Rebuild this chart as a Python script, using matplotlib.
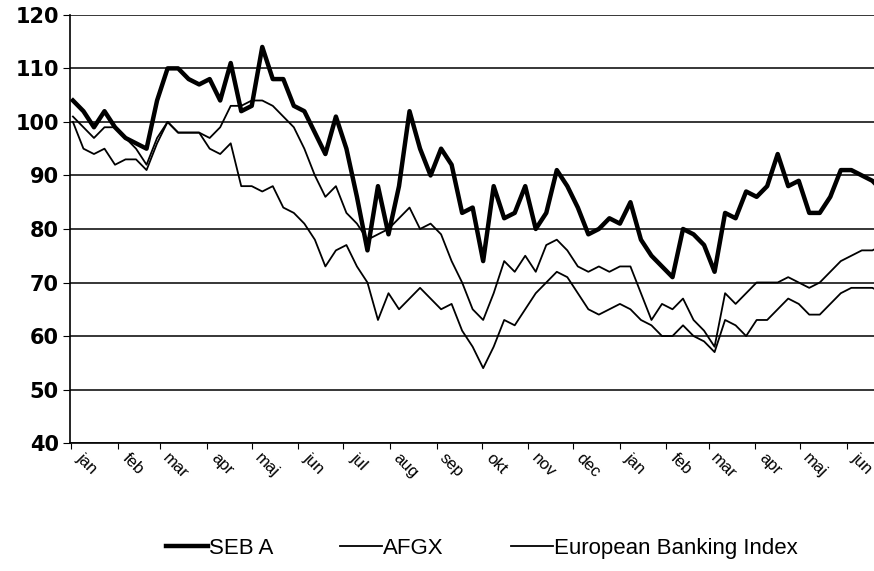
import matplotlib
matplotlib.use("Agg")
import matplotlib.pyplot as plt
import matplotlib.dates as mdates
import numpy as np
import pandas as pd

# weekly closing values, indexed to 100 at the start
start_date = "2001-01-02"
month_labels = ["jan", "feb", "mar", "apr", "maj", "jun", "jul", "aug", "sep",
                "okt", "nov", "dec", "jan", "feb", "mar", "apr", "maj", "jun"]

seb_a = [104, 102, 99, 102, 99, 97, 96, 95, 104, 110, 110, 108, 107, 108, 104,
         111, 102, 103, 114, 108, 108, 103, 102, 98, 94, 101, 95, 86, 76, 88,
         79, 88, 102, 95, 90, 95, 92, 83, 84, 74, 88, 82, 83, 88, 80, 83, 91,
         88, 84, 79, 80, 82, 81, 85, 78, 75, 73, 71, 80, 79, 77, 72, 83, 82,
         87, 86, 88, 94, 88, 89, 83, 83, 86, 91, 91, 90, 89, 87]

afgx = [100, 95, 94, 95, 92, 93, 93, 91, 96, 100, 98, 98, 98, 95, 94, 96, 88,
        88, 87, 88, 84, 83, 81, 78, 73, 76, 77, 73, 70, 63, 68, 65, 67, 69, 67,
        65, 66, 61, 58, 54, 58, 63, 62, 65, 68, 70, 72, 71, 68, 65, 64, 65, 66,
        65, 63, 62, 60, 60, 62, 60, 59, 57, 63, 62, 60, 63, 63, 65, 67, 66, 64,
        64, 66, 68, 69, 69, 69, 68]

ebi = [101, 99, 97, 99, 99, 97, 95, 92, 97, 100, 98, 98, 98, 97, 99, 103, 103,
       104, 104, 103, 101, 99, 95, 90, 86, 88, 83, 81, 78, 79, 80, 82, 84, 80,
       81, 79, 74, 70, 65, 63, 68, 74, 72, 75, 72, 77, 78, 76, 73, 72, 73, 72,
       73, 73, 68, 63, 66, 65, 67, 63, 61, 58, 68, 66, 68, 70, 70, 70, 71, 70,
       69, 70, 72, 74, 75, 76, 76, 77]

dates = pd.date_range(start_date, periods=len(seb_a), freq="7D")

plt.rcParams["font.family"] = ["Liberation Sans", "DejaVu Sans"]

fig = plt.figure(figsize=(8.74, 5.71), dpi=100)
ax = fig.add_axes([0.080, 0.224, 0.925, 0.750])

ax.plot(dates, seb_a, color="black", lw=3.2, label="SEB A")
ax.plot(dates, afgx, color="black", lw=1.3, label="AFGX")
ax.plot(dates, ebi, color="black", lw=1.3, label="European Banking Index")

ax.set_ylim(40, 120)
ax.set_yticks(np.arange(40, 121, 10))
ax.yaxis.grid(True, color="black", lw=1.1)
ax.set_axisbelow(True)

for side in ["top", "right"]:
    ax.spines[side].set_visible(False)
ax.spines["left"].set_linewidth(1.2)
ax.spines["bottom"].set_linewidth(1.2)

# month ticks at month starts, labels a bit into each month
ax.xaxis.set_major_locator(mdates.MonthLocator())
ax.xaxis.set_major_formatter(plt.NullFormatter())
label_pos = pd.date_range("2001-01-01", periods=len(month_labels), freq="MS") + pd.Timedelta(days=10)
ax.set_xticks(label_pos, minor=True)
ax.set_xticklabels(month_labels, minor=True, rotation=-45, ha="center",
                   va="top", fontsize=12)
ax.tick_params(axis="x", which="minor", length=0, pad=5)
ax.tick_params(axis="x", which="major", length=4, direction="out")
ax.tick_params(axis="y", length=5, pad=3)
for lbl in ax.get_yticklabels():
    lbl.set_fontfamily("DejaVu Sans")
    lbl.set_fontsize(15)
    lbl.set_fontweight("bold")
ax.set_xlim(pd.Timestamp("2000-12-31"), pd.Timestamp("2002-06-22"))

fig.legend(loc="center", bbox_to_anchor=(0.551, 0.04), ncol=3, frameon=False,
           fontsize=16, handlelength=1.9, columnspacing=3.0, handletextpad=0.05)

fig.savefig("out.png", dpi=100)
